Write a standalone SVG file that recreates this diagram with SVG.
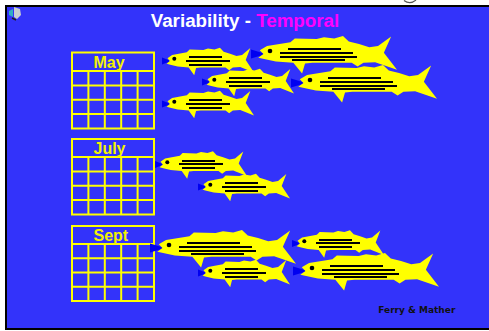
<svg xmlns="http://www.w3.org/2000/svg" xmlns:xlink="http://www.w3.org/1999/xlink" width="489" height="331" viewBox="0 0 489 331">
  <style>
    .frame { fill: #000000; }
    .sea { fill: #3333FA; }
    .grid { fill: none; stroke: #FFFF00; stroke-width: 2; }
    .month { font-family: "Liberation Sans", Arial, sans-serif; font-weight: bold; font-size: 16px; fill: #F2F200; }
    .title { font-family: "Liberation Sans", Arial, sans-serif; font-weight: bold; font-size: 18.8px; }
    .credit { font-family: "DejaVu Sans", sans-serif; font-weight: bold; font-size: 9px; fill: #111111; }
    .body { fill: #FFFF00; }
    .mouth { fill: #0000F0; }
    .eye { fill: #000000; }
    .stripe { fill: none; stroke: #000000; stroke-width: 2; shape-rendering: crispEdges; }
  </style>
  <defs>
    <!-- fish outline, mouth at x=0, centre line at y=0, length 100 -->
    <path id="fishOutline" d="M6,-3 L11,-6.5 L27,-9.5 L30,-12.5 L45,-12 L50,-13.5 L57,-12.5 L63,-14.5 L67,-10 L74,-8 L81,-5.5 L87,-6.5 L96,-14 L91,-1 L100,12.5 L85,6.5 L77,7 L73,10 L69,7 L42,7 L37,7.5 L35,15.5 L29,7 L17,6 L9,4 L5,3 L8.5,0 Z"/>
    <!-- small fish: three stripes -->
    <g id="fishS">
      <polygon class="mouth" points="0,-3.6 0,3.6 9,0"/>
      <use xlink:href="#fishOutline" href="#fishOutline" class="body" transform="scale(0.92)"/>
      <circle class="eye" cx="12.3" cy="-2.3" r="2"/>
      <path class="stripe" d="M27,-3.8H60M24,-0.2H68M27,3.5H60"/>
    </g>
    <!-- large fish: four stripes -->
    <g id="fishL">
      <polygon class="mouth" points="0,-4.5 0,4.5 15,0"/>
      <use xlink:href="#fishOutline" href="#fishOutline" class="body" transform="scale(1.46,1.25)"/>
      <circle class="eye" cx="19" cy="-3" r="2.3"/>
      <path class="stripe" d="M37,-5H90M29,-1.3H102M29,2.7H106M41,6.3H94"/>
    </g>
  </defs>

  <!-- page and slide frame -->
  <rect x="0" y="0" width="489" height="331" fill="#FFFFFF"/>
  <path d="M404,0.5 Q410,5 416,0" fill="none" stroke="#555555" stroke-width="1.2"/>
  <rect class="frame" x="5" y="5" width="490" height="325"/>
  <rect class="sea" x="7" y="7" width="482" height="321"/>

  <!-- sound icon -->
  <g id="icon">
    <polygon points="9,11 13,9 13,17 9,15" fill="#30B0C0"/>
    <polygon points="14,7 20,9 21,15 17,19 14,17" fill="#C8D0D0"/>
    <path d="M12,18 L16,20" stroke="#202020" stroke-width="1.5"/>
  </g>

  <!-- title -->
  <text class="title" x="150.7" y="26.5"><tspan fill="#FFFFFF">Variability - </tspan><tspan fill="#FF00FF">Temporal</tspan></text>

  <!-- calendars -->
  <g id="cal-may">
    <rect class="grid" x="72" y="52.5" width="82" height="76"/>
    <path class="grid" d="M72,71H154M72,85.4H154M72,99.8H154M72,114.1H154M88.4,71V128.5M104.8,71V128.5M121.2,71V128.5M137.6,71V128.5"/>
    <text class="month" x="93.5" y="67.5">May</text>
  </g>
  <g id="cal-july">
    <rect class="grid" x="72" y="139" width="82" height="75.5"/>
    <path class="grid" d="M72,157H154M72,171.4H154M72,185.8H154M72,200.1H154M88.4,157V214.5M104.8,157V214.5M121.2,157V214.5M137.6,157V214.5"/>
    <text class="month" x="93.5" y="154.3">July</text>
  </g>
  <g id="cal-sept">
    <rect class="grid" x="72" y="226" width="82" height="75"/>
    <path class="grid" d="M72,244H154M72,258.3H154M72,272.5H154M72,286.8H154M88.4,244V301M104.8,244V301M121.2,244V301M137.6,244V301"/>
    <text class="month" x="93.5" y="241">Sept</text>
  </g>

  <!-- May shoal -->
  <g id="fish-may-1"><use xlink:href="#fishS" href="#fishS" transform="translate(162,61)"/></g>
  <g id="fish-may-2"><use xlink:href="#fishS" href="#fishS" transform="translate(202,82)"/></g>
  <g id="fish-may-3"><use xlink:href="#fishS" href="#fishS" transform="translate(162,104)"/></g>
  <g id="fish-may-4"><use xlink:href="#fishL" href="#fishL" transform="translate(251,54)"/></g>
  <g id="fish-may-5"><use xlink:href="#fishL" href="#fishL" transform="translate(291,83)"/></g>

  <!-- July shoal -->
  <g id="fish-july-1"><use xlink:href="#fishS" href="#fishS" transform="translate(155,164.5)"/></g>
  <g id="fish-july-2"><use xlink:href="#fishS" href="#fishS" transform="translate(198,187)"/></g>

  <!-- September shoal -->
  <g id="fish-sept-1"><use xlink:href="#fishL" href="#fishL" transform="translate(150,248)"/></g>
  <g id="fish-sept-2"><use xlink:href="#fishS" href="#fishS" transform="translate(198,273)"/></g>
  <g id="fish-sept-3"><use xlink:href="#fishS" href="#fishS" transform="translate(292,243.5)"/></g>
  <g id="fish-sept-4"><use xlink:href="#fishL" href="#fishL" transform="translate(293,271)"/></g>

  <g id="connectors"/>

  <text class="credit" x="378.3" y="313">Ferry &amp; Mather</text>
</svg>
